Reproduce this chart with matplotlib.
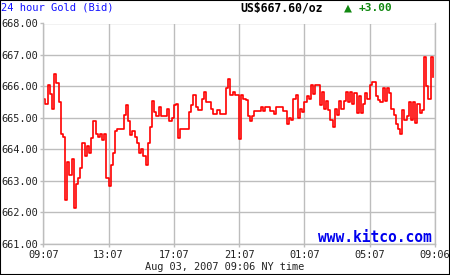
import numpy as np
import pandas as pd
import matplotlib
matplotlib.use("Agg")
import matplotlib.pyplot as plt
import matplotlib.dates as mdates
from matplotlib.patches import Rectangle

# Gold bid, one reading every 8 minutes from 09:07
start = "2007-08-02 09:07"
step = "8min"
prices = [
    665.60, 665.45, 666.05, 665.75, 665.30, 666.40, 666.10, 665.50, 664.50, 664.40,
    662.40, 663.60, 663.20, 663.70, 662.15, 662.90, 663.10, 663.40, 664.20, 663.80,
    664.10, 663.90, 664.35, 664.90, 664.50, 664.40, 664.50, 664.30, 664.50, 663.10,
    662.85, 663.50, 663.90, 664.60, 664.65, 664.65, 664.65, 665.10, 665.40, 664.90,
    664.45, 664.60, 664.40, 664.20, 663.90, 664.00, 663.80, 663.50, 664.20, 664.70,
    665.55, 665.20, 665.05, 665.35, 665.05, 665.05, 665.05, 665.30, 664.90, 665.00,
    665.40, 665.45, 664.35, 664.65, 664.65, 664.65, 664.65, 665.20, 665.40, 665.73,
    665.35, 665.25, 665.25, 665.60, 665.83, 665.52, 665.52, 665.30, 665.13, 665.13,
    665.25, 665.13, 665.13, 665.13, 665.95, 666.23, 665.73, 665.83, 665.73, 665.73,
    664.33, 665.73, 665.60, 665.57, 665.05, 664.90, 665.05, 665.23, 665.23, 665.23,
    665.34, 665.23, 665.34, 665.34, 665.23, 665.23, 665.13, 665.34, 665.34, 665.34,
    665.23, 665.23, 664.80, 665.00, 664.95, 665.60, 665.73, 665.00, 665.30, 665.20,
    665.50, 665.70, 665.60, 666.05, 665.75, 666.05, 666.05, 665.40, 665.83, 665.30,
    665.55, 665.25, 664.95, 664.73, 665.30, 665.10, 665.55, 665.30, 665.55, 665.83,
    665.50, 665.83, 665.45, 665.80, 665.15, 665.70, 665.15, 665.45, 665.80, 665.60,
    666.05, 666.15, 666.15, 665.70, 665.57, 665.52, 665.95, 665.55, 665.95, 665.80,
    665.30, 665.10, 664.80, 664.65, 664.50, 665.25, 664.95, 665.05, 665.52, 664.95,
    665.52, 664.83, 665.45, 665.15, 665.25, 666.95, 666.00, 665.60, 666.95, 666.30,
]

tick_times = ["2007-08-02 09:07", "2007-08-02 13:07", "2007-08-02 17:07",
              "2007-08-02 21:07", "2007-08-03 01:07", "2007-08-03 05:07",
              "2007-08-03 09:06"]
tick_labels = ["09:07", "13:07", "17:07", "21:07", "01:07", "05:07", "09:06"]
y_ticks = [661, 662, 663, 664, 665, 666, 667, 668]

times = pd.date_range(start, periods=len(prices), freq=step)
tick_dates = pd.to_datetime(tick_times)

plt.rcParams["font.family"] = ["DejaVu Sans Mono", "DejaVu Sans"]
grid_col = "#bdbdbd"

fig = plt.figure(figsize=(4.5, 2.75), dpi=100)
ax = fig.add_axes([43.3 / 450, 31 / 275, (434.6 - 43.3) / 450, (244 - 23.5) / 275])

ax.plot(times, prices, drawstyle="steps-post", color="#ff0000", lw=1.2)

ax.set_xlim(tick_dates[0], tick_dates[-1])
ax.set_ylim(661, 668)
ax.set_xticks(tick_dates)
ax.set_xticklabels(tick_labels)
ax.set_yticks(y_ticks)
ax.set_yticklabels([f"{v:.2f}" for v in y_ticks])
ax.grid(True, color=grid_col, lw=1.0)
ax.set_axisbelow(True)
ax.tick_params(direction="out", length=2.2, width=1.0, color=grid_col,
               labelsize=7.4, labelcolor="#222222")
ax.tick_params(axis="y", pad=1.5)
ax.tick_params(axis="x", pad=2.0)
for side in ["left", "bottom", "right"]:
    ax.spines[side].set_color(grid_col)
    ax.spines[side].set_linewidth(1.0)
ax.spines["top"].set_visible(False)

# header and footer texts
def px(x, y):
    return x / 450, 1 - y / 275

fig.text(*px(1, 7.5), "24 hour Gold (Bid)", color="#1010ff", fontsize=7.5,
         ha="left", va="center")
fig.text(*px(240, 8), "US$667.60/oz", color="black", fontsize=8.3,
         weight="bold", ha="left", va="center")
fig.text(*px(344, 7.5), "\u25b2", color="#118811", fontsize=9.5,
         ha="left", va="center")
fig.text(*px(359, 8), "+3.00", color="#118811", fontsize=8.0,
         weight="bold", ha="left", va="center")
fig.text(*px(225, 267.5), "Aug 03, 2007 09:06 NY time", color="#222222",
         fontsize=7.4, ha="center", va="center")
fig.text(*px(432, 238), "www.kitco.com", color="#0000ee", fontsize=10.5,
         weight="bold", ha="right", va="center")

fig.patches.append(Rectangle((0, 0), 1, 1, transform=fig.transFigure,
                             fill=False, ec="black", lw=1.5))

fig.savefig("out.png", dpi=100)
